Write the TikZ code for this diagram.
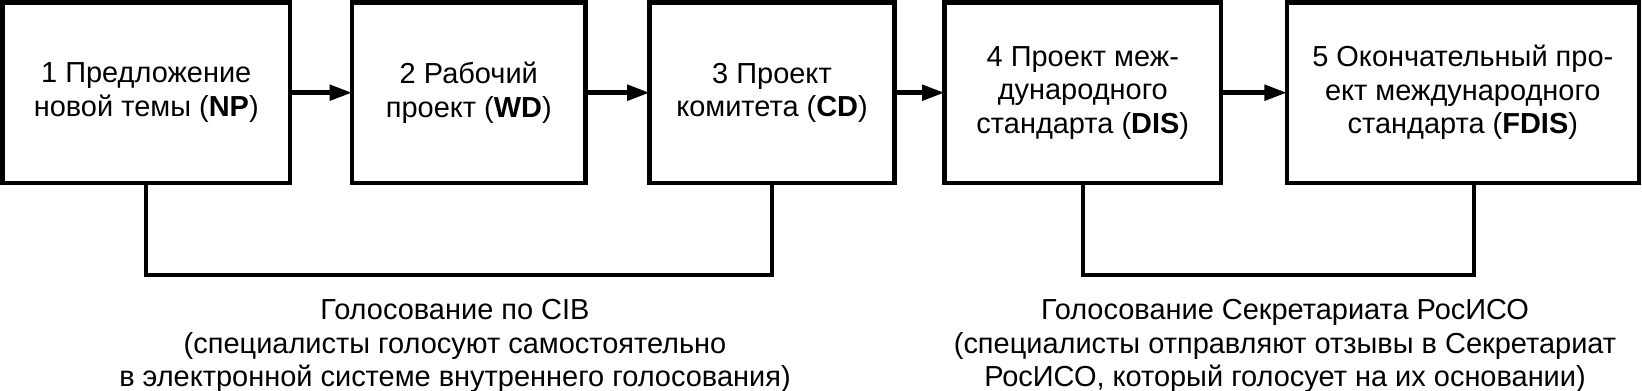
\documentclass[tikz,border=0pt]{standalone}
\usepackage{fontspec}
\setmainfont{Liberation Sans}
\usepackage{tikz}
\usetikzlibrary{positioning, arrows.meta}

\begin{document}
\begin{tikzpicture}[
    every node/.style={font=\fontsize{10.3}{11.9}\selectfont},
    box/.style={rectangle, draw, line width=1.6pt, minimum height=2.256cm, outer sep=0pt, inner sep=0pt, align=center},
    vote/.style={align=center, inner sep=0pt, anchor=north},
    arr/.style={-{Triangle[length=2.8mm, width=1.9mm]}, line width=1.6pt},
    link/.style={line width=1.6pt}
]
    \useasboundingbox (0,0) rectangle (20.525,-4.8875);
    \node[box, minimum width=3.594cm] (np) at (1.828,-1.159) {1 Предложение\\новой темы (\textbf{NP})};
    \node[box, minimum width=2.92cm, right=0.775cm of np] (wd) {2 Рабочий\\проект (\textbf{WD})};
    \node[box, minimum width=3.06cm, right=0.8cm of wd] (cd) {3 Проект\\комитета (\textbf{CD})};
    \node[box, minimum width=3.46cm, right=0.625cm of cd] (dis) {4 Проект меж-\\дународного\\стандарта (\textbf{DIS})};
    \node[box, minimum width=4.4cm, right=0.82cm of dis] (fdis) {5 Окончательный про-\\ект международного\\стандарта (\textbf{FDIS})};
    \draw[arr] (np) -- (wd);
    \draw[arr] (wd) -- (cd);
    \draw[arr] (cd) -- (dis);
    \draw[arr] (dis) -- (fdis);
    \draw[link] (np.south) -- ++(0,-1.15) -| (cd.south);
    \draw[link] (dis.south) -- ++(0,-1.15) -| ([xshift=1.4mm]fdis.south);
    \node[vote] (cibvote) at (5.6875,-3.74) {Голосование по CIB\\(специалисты голосуют самостоятельно\\в электронной системе внутреннего голосования)};
    \node[vote] (secvote) at (16.0625,-3.74) {Голосование Секретариата РосИСО\\(специалисты отправляют отзывы в Секретариат\\РосИСО, который голосует на их основании)};
\end{tikzpicture}
\end{document}
